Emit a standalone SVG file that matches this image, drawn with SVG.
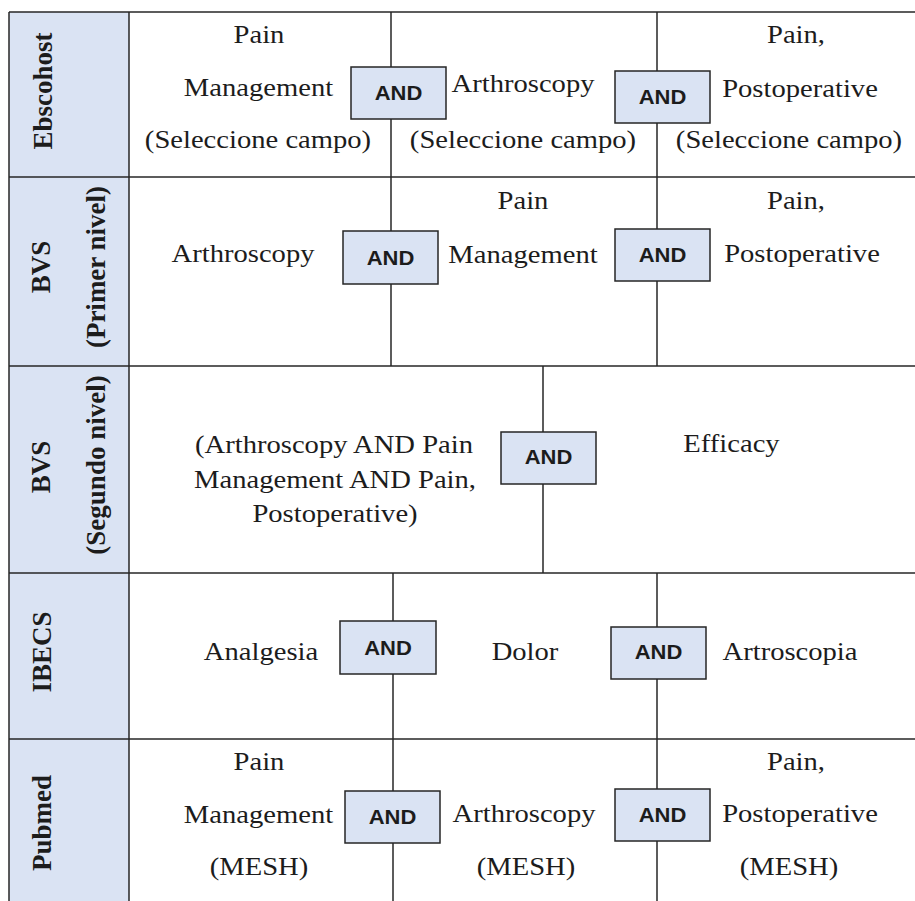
<svg xmlns="http://www.w3.org/2000/svg" width="915" height="901" viewBox="0 0 915 901">
<style>
.grid{stroke:#262626;stroke-width:1.5;fill:none}
.hdr{fill:#dae3f3}
.t{font-family:"Liberation Serif","Times New Roman",serif;font-size:26px;fill:#1c1c1c;text-anchor:middle}
.lbl{font-family:"Liberation Serif","Times New Roman",serif;font-size:27px;font-weight:bold;fill:#1c1c1c;text-anchor:middle}
.and rect{fill:#dae3f3;stroke:#262626;stroke-width:1.5}
.and text{font-family:"Liberation Sans",Arial,sans-serif;font-weight:bold;font-size:20px;text-anchor:middle;fill:#1c1c1c}
.conn line{stroke:#262626;stroke-width:1.5}
</style>
<rect width="915" height="901" fill="#ffffff"/>
<rect class="hdr" x="9" y="12" width="120" height="889"/>

<g id="grid">
<line class="grid" x1="9" y1="12" x2="915" y2="12"/>
<line class="grid" x1="9" y1="177" x2="915" y2="177"/>
<line class="grid" x1="9" y1="366" x2="915" y2="366"/>
<line class="grid" x1="9" y1="573" x2="915" y2="573"/>
<line class="grid" x1="9" y1="739" x2="915" y2="739"/>
<line class="grid" x1="9" y1="12" x2="9" y2="901"/>
<line class="grid" x1="129" y1="12" x2="129" y2="901"/>
</g>

<g id="connectors" class="conn">
<line x1="391" y1="12" x2="391" y2="177"/>
<line x1="657" y1="12" x2="657" y2="177"/>
<line x1="391" y1="177" x2="391" y2="366"/>
<line x1="657" y1="177" x2="657" y2="366"/>
<line x1="543" y1="366" x2="543" y2="573"/>
<line x1="393" y1="573" x2="393" y2="739"/>
<line x1="657" y1="573" x2="657" y2="739"/>
<line x1="393" y1="739" x2="393" y2="901"/>
<line x1="657" y1="739" x2="657" y2="901"/>
</g>

<g id="labels">
<text class="lbl" transform="translate(52,91) rotate(-90)">Ebscohost</text>
<text class="lbl" transform="translate(50,267) rotate(-90)">BVS</text>
<text class="lbl" transform="translate(105,267) rotate(-90)">(Primer nivel)</text>
<text class="lbl" transform="translate(50,467) rotate(-90)">BVS</text>
<text class="lbl" transform="translate(105,465) rotate(-90)">(Segundo nivel)</text>
<text class="lbl" transform="translate(51,652) rotate(-90)">IBECS</text>
<text class="lbl" transform="translate(51,823) rotate(-90)">Pubmed</text>
</g>

<g id="row-ebscohost">
<text class="t" transform="translate(259,43) scale(1.1,1)">Pain</text>
<text class="t" transform="translate(258.5,96) scale(1.1,1)">Management</text>
<text class="t" transform="translate(258,148) scale(1.1,1)">(Seleccione campo)</text>
<text class="t" transform="translate(523,92) scale(1.1,1)">Arthroscopy</text>
<text class="t" transform="translate(523,148) scale(1.1,1)">(Seleccione campo)</text>
<text class="t" transform="translate(796,43) scale(1.1,1)">Pain,</text>
<text class="t" transform="translate(800,97) scale(1.1,1)">Postoperative</text>
<text class="t" transform="translate(789,148) scale(1.1,1)">(Seleccione campo)</text>
</g>

<g id="row-bvs1">
<text class="t" transform="translate(243,262) scale(1.1,1)">Arthroscopy</text>
<text class="t" transform="translate(523,209) scale(1.1,1)">Pain</text>
<text class="t" transform="translate(523,263) scale(1.1,1)">Management</text>
<text class="t" transform="translate(796,209) scale(1.1,1)">Pain,</text>
<text class="t" transform="translate(802,262) scale(1.1,1)">Postoperative</text>
</g>

<g id="row-bvs2">
<text class="t" transform="translate(334,453) scale(1.1,1)">(Arthroscopy AND Pain</text>
<text class="t" transform="translate(335,488) scale(1.1,1)">Management AND Pain,</text>
<text class="t" transform="translate(335,522) scale(1.1,1)">Postoperative)</text>
<text class="t" transform="translate(731.5,452) scale(1.1,1)">Efficacy</text>
</g>

<g id="row-ibecs">
<text class="t" transform="translate(261,660) scale(1.1,1)">Analgesia</text>
<text class="t" transform="translate(525,660) scale(1.1,1)">Dolor</text>
<text class="t" transform="translate(790,660) scale(1.1,1)">Artroscopia</text>
</g>

<g id="row-pubmed">
<text class="t" transform="translate(259,770) scale(1.1,1)">Pain</text>
<text class="t" transform="translate(258.5,823) scale(1.1,1)">Management</text>
<text class="t" transform="translate(259,875) scale(1.1,1)">(MESH)</text>
<text class="t" transform="translate(524,822) scale(1.1,1)">Arthroscopy</text>
<text class="t" transform="translate(526,875) scale(1.1,1)">(MESH)</text>
<text class="t" transform="translate(796,770) scale(1.1,1)">Pain,</text>
<text class="t" transform="translate(800,822) scale(1.1,1)">Postoperative</text>
<text class="t" transform="translate(789,875) scale(1.1,1)">(MESH)</text>
</g>

<g id="and-e1" class="and"><rect x="351" y="67" width="95" height="52"/><text transform="translate(398.5,100) scale(1.1,1)">AND</text></g>
<g id="and-e2" class="and"><rect x="615" y="71" width="95" height="52"/><text transform="translate(662.5,104) scale(1.1,1)">AND</text></g>
<g id="and-b1" class="and"><rect x="343" y="231" width="95" height="53"/><text transform="translate(390.5,264.5) scale(1.1,1)">AND</text></g>
<g id="and-b2" class="and"><rect x="615" y="229" width="95" height="52"/><text transform="translate(662.5,262) scale(1.1,1)">AND</text></g>
<g id="and-s1" class="and"><rect x="501" y="432" width="95" height="52"/><text transform="translate(548.5,464) scale(1.1,1)">AND</text></g>
<g id="and-i1" class="and"><rect x="340" y="621" width="96" height="53"/><text transform="translate(388,655) scale(1.1,1)">AND</text></g>
<g id="and-i2" class="and"><rect x="611" y="627" width="95" height="52"/><text transform="translate(658.5,659) scale(1.1,1)">AND</text></g>
<g id="and-p1" class="and"><rect x="345" y="791" width="95" height="52"/><text transform="translate(392.5,824) scale(1.1,1)">AND</text></g>
<g id="and-p2" class="and"><rect x="615" y="789" width="95" height="52"/><text transform="translate(662.5,822) scale(1.1,1)">AND</text></g>
</svg>
